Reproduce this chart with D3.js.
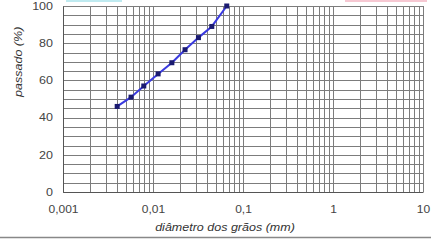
<!DOCTYPE html>
<html>
<head>
<meta charset="utf-8">
<script src="https://cdn.jsdelivr.net/npm/d3@7"></script>
<style>
  body { margin: 0; background: #fff; }
  svg { display: block; font-family: "Liberation Sans", Arial, sans-serif; }
</style>
</head>
<body>
<div id="chart"></div>
<script>
// data
const diameters = [0.004, 0.0057, 0.0079, 0.0114, 0.0162, 0.0227, 0.032, 0.045, 0.066];
const passing = [46, 51, 57, 63.5, 69.5, 76.5, 83, 89, 100];
const xTicks = [0.001, 0.01, 0.1, 1, 10];
const xTickLabels = ["0,001", "0,01", "0,1", "1", "10"];
const yTicks = [0, 20, 40, 60, 80, 100];

const width = 431, height = 242;
const margin = { top: 6, right: 8, bottom: 50, left: 63 };

const svg = d3.select("#chart").append("svg")
    .attr("width", width)
    .attr("height", height);

const x = d3.scaleLog()
    .domain([0.001, 10])
    .range([margin.left, width - margin.right]);

const y = d3.scaleLinear()
    .domain([0, 100])
    .range([height - margin.bottom, margin.top]);

// the text in the picture is drawn a bit wide
function widen(sel, f) {
    sel.each(function() {
        const w = this.getComputedTextLength();
        d3.select(this).attr("textLength", w * f).attr("lengthAdjust", "spacingAndGlyphs");
    });
}

// remnants of the cropped header
svg.append("rect").attr("x", 66).attr("y", 0).attr("width", 56).attr("height", 2).attr("fill", "#bfeaf0");
svg.append("rect").attr("x", 345).attr("y", 0).attr("width", 82).attr("height", 2).attr("fill", "#f6c8d2");

// grid
const minorX = [];
for (let e = -3; e < 1; e++) {
    for (let k = 1; k < 10; k++) minorX.push(k * Math.pow(10, e));
}
minorX.push(10);

svg.append("g")
    .selectAll("line")
    .data(minorX)
    .join("line")
    .attr("x1", d => Math.round(x(d)) + 0.5)
    .attr("x2", d => Math.round(x(d)) + 0.5)
    .attr("y1", y(100))
    .attr("y2", y(0))
    .attr("stroke", "#7c7c7c")
    .attr("stroke-width", 1);

svg.append("g")
    .selectAll("line")
    .data(d3.range(0, 101, 5))
    .join("line")
    .attr("x1", x(0.001))
    .attr("x2", x(10))
    .attr("y1", d => Math.round(y(d)) + 0.5)
    .attr("y2", d => Math.round(y(d)) + 0.5)
    .attr("stroke", "#7c7c7c")
    .attr("stroke-width", 1);

// axes
const xAxis = d3.axisBottom(x)
    .tickValues(xTicks)
    .tickSize(0)
    .tickPadding(14)
    .tickFormat((d, i) => xTickLabels[i]);

svg.append("g")
    .attr("transform", `translate(0,${y(0)})`)
    .call(xAxis)
    .call(g => g.select(".domain").attr("stroke", "#555"))
    .selectAll("text")
    .attr("fill", "#444")
    .style("font-size", "10px")
    .call(widen, 1.2);

const yAxis = d3.axisLeft(y)
    .tickValues(yTicks)
    .tickSize(0)
    .tickPadding(10);

svg.append("g")
    .attr("transform", `translate(${margin.left},0)`)
    .call(yAxis)
    .call(g => g.select(".domain").attr("stroke", "#555"))
    .selectAll("text")
    .attr("fill", "#444")
    .style("font-size", "10px")
    .call(widen, 1.25);

// curve
svg.append("path")
    .datum(diameters.map((d, i) => [d, passing[i]]))
    .attr("fill", "none")
    .attr("stroke", "#3a3adf")
    .attr("stroke-width", 2)
    .attr("d", d3.line().x(d => x(d[0])).y(d => y(d[1])));

svg.append("g")
    .selectAll("rect")
    .data(diameters.map((d, i) => [d, passing[i]]))
    .join("rect")
    .attr("x", d => x(d[0]) - 2.5)
    .attr("y", d => y(d[1]) - 2.5)
    .attr("width", 5)
    .attr("height", 5)
    .attr("fill", "#1a1a70");

// labels
svg.append("text")
    .attr("x", 225)
    .attr("y", 231)
    .attr("text-anchor", "middle")
    .attr("fill", "#333")
    .style("font-size", "10px")
    .style("font-style", "italic")
    .text("diâmetro dos grãos  (mm)")
    .call(widen, 1.25);

svg.append("text")
    .attr("transform", `translate(22,${y(70)}) rotate(-90)`)
    .attr("text-anchor", "middle")
    .attr("fill", "#333")
    .style("font-size", "10px")
    .style("font-style", "italic")
    .text("passado  (%)")
    .call(widen, 1.25);

// bottom separator
svg.append("line")
    .attr("x1", 0).attr("x2", width)
    .attr("y1", 237.5).attr("y2", 237.5)
    .attr("stroke", "#888")
    .attr("stroke-width", 1.5);
</script>
</body>
</html>
